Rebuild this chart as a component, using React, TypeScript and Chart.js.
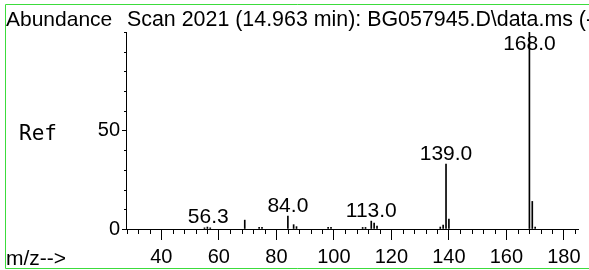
import React, { useEffect, useRef } from 'react';
import { Chart, registerables } from 'chart.js';

Chart.register(...registerables);

// ---- data ----
const peakMz = [55, 56, 57, 69, 74, 75, 84, 86, 87, 98, 99, 110, 111, 113, 114, 115, 137, 138, 139, 140, 168, 169, 170];
const peakAbundance = [0.6, 1.0, 0.6, 4.5, 0.8, 0.8, 6.5, 2.2, 1.2, 0.8, 0.8, 0.8, 0.8, 4, 3, 1.5, 1, 2, 33, 5, 100, 14, 1];

const labelMz = [56.3, 84.0, 113.0, 139.0, 168.0];
const labelText = ['56.3', '84.0', '113.0', '139.0', '168.0'];

const xMajorTicks = [40, 60, 80, 100, 120, 140, 160, 180];
const xMinorTicks = [28, 32, 36, 44, 48, 52, 56, 64, 68, 72, 76, 84, 88, 92, 96, 104, 108, 112, 116, 124, 128, 132, 136, 144, 148, 152, 156, 164, 168, 172, 176, 184];
const yMajorTicks = [0, 50];
const yMinorTicks = [10, 20, 30, 40, 60, 70, 80, 90, 100];

const titleText = 'Scan 2021 (14.963 min): BG057945.D\\data.ms (-)';
const yAxisTitle = 'Abundance';
const xAxisTitle = 'm/z-->';
const sideLabel = 'Ref';

const FONT = "'Liberation Sans', Arial, sans-serif";
const GREEN = 'rgb(60, 220, 60)';

export default function App() {
  const ref = useRef<HTMLCanvasElement | null>(null);

  useEffect(() => {
    document.body.style.margin = '0';
    document.body.style.overflow = 'hidden';
    const canvas = ref.current!;

    const overlay = {
      id: 'overlay',
      afterDraw(chart: any) {
        const ctx = chart.ctx as CanvasRenderingContext2D;
        const area = chart.chartArea;
        const xs = chart.scales.x;
        const ys = chart.scales.y;
        ctx.save();
        // minor ticks
        ctx.strokeStyle = '#000';
        ctx.lineWidth = 1;
        ctx.beginPath();
        xMinorTicks.forEach((v) => {
          const px = Math.round(xs.getPixelForValue(v)) + 0.5;
          ctx.moveTo(px, area.bottom);
          ctx.lineTo(px, area.bottom + 5);
        });
        yMinorTicks.forEach((v) => {
          const py = Math.round(ys.getPixelForValue(v)) + 0.5;
          ctx.moveTo(area.left - 2, py);
          ctx.lineTo(area.left, py);
        });
        ctx.stroke();

        // peak labels
        ctx.fillStyle = '#000';
        ctx.font = `21px ${FONT}`;
        ctx.textAlign = 'center';
        ctx.textBaseline = 'alphabetic';
        labelMz.forEach((mz, i) => {
          let h = 0;
          peakMz.forEach((m, j) => {
            if (Math.abs(m - mz) <= 0.75) h = Math.max(h, peakAbundance[j]);
          });
          const top = ys.getPixelForValue(h);
          const y = Math.max(top - 4, area.top + 18);
          ctx.fillText(labelText[i], xs.getPixelForValue(mz), y);
        });

        // texts
        ctx.textAlign = 'left';
        ctx.fillText(yAxisTitle, 6, 26);
        ctx.font = `21.4px ${FONT}`;
        ctx.fillText(titleText, 127, 26);
        ctx.font = `21px ${FONT}`;
        ctx.fillText(xAxisTitle, 6, 265);
        ctx.font = `21px 'DejaVu Sans Mono', monospace`;
        ctx.fillText(sideLabel, 19, 140);

        // green frame
        ctx.strokeStyle = GREEN;
        ctx.lineWidth = 1;
        ctx.beginPath();
        ctx.moveTo(589, 4.5);
        ctx.lineTo(5.5, 4.5);
        ctx.lineTo(5.5, 268.5);
        ctx.lineTo(589, 268.5);
        ctx.stroke();
        ctx.restore();
      },
    };

    const chart = new Chart(canvas, {
      type: 'bar',
      data: {
        datasets: [
          {
            data: peakMz.map((x, i) => ({ x, y: peakAbundance[i] })),
            backgroundColor: '#000',
            borderWidth: 0,
            barThickness: 1,
          },
        ],
      },
      options: {
        responsive: false,
        animation: false,
        layout: { padding: { top: 32, right: 11, left: 0, bottom: 0 } },
        plugins: { legend: { display: false }, tooltip: { enabled: false }, title: { display: false } },
        scales: {
          x: {
            type: 'linear',
            offset: false,
            min: 27.7,
            max: 184.9,
            afterBuildTicks: (s: any) => {
              s.ticks = [...xMajorTicks, ...xMinorTicks].sort((a, b) => a - b).map((v) => ({ value: v }));
            },
            afterFit: (s: any) => {
              s.height = 41;
            },
            ticks: {
              autoSkip: false,
              maxRotation: 0,
              minRotation: 0,
              padding: 5,
              color: '#000',
              font: { family: FONT, size: 20 },
              callback: (v: any) => (xMajorTicks.includes(Number(v)) ? String(v) : ''),
            },
            grid: {
              offset: false,
              drawOnChartArea: false,
              drawTicks: true,
              tickLength: 11,
              tickWidth: 1,
              tickColor: (c: any) => (c.tick && xMajorTicks.includes(c.tick.value) ? '#000' : 'rgba(0,0,0,0)'),
            },
            border: { display: true, color: '#000', width: 1 },
          },
          y: {
            type: 'linear',
            min: 0,
            max: 100,
            afterBuildTicks: (s: any) => {
              s.ticks = [...yMajorTicks, ...yMinorTicks].sort((a, b) => a - b).map((v) => ({ value: v }));
            },
            afterFit: (s: any) => {
              s.width = 126;
            },
            ticks: {
              autoSkip: false,
              padding: 2,
              color: '#000',
              font: { family: FONT, size: 20 },
              callback: (v: any) => (yMajorTicks.includes(Number(v)) ? String(v) : ''),
            },
            grid: {
              drawOnChartArea: false,
              drawTicks: true,
              tickLength: 4,
              tickWidth: 1,
              tickColor: (c: any) => (c.tick && yMajorTicks.includes(c.tick.value) ? '#000' : 'rgba(0,0,0,0)'),
            },
            border: { display: true, color: '#000', width: 1 },
          },
        },
      },
      plugins: [overlay],
    } as any);

    return () => chart.destroy();
  }, []);

  return <canvas ref={ref} width={589} height={270} style={{ display: 'block' }} />;
}
